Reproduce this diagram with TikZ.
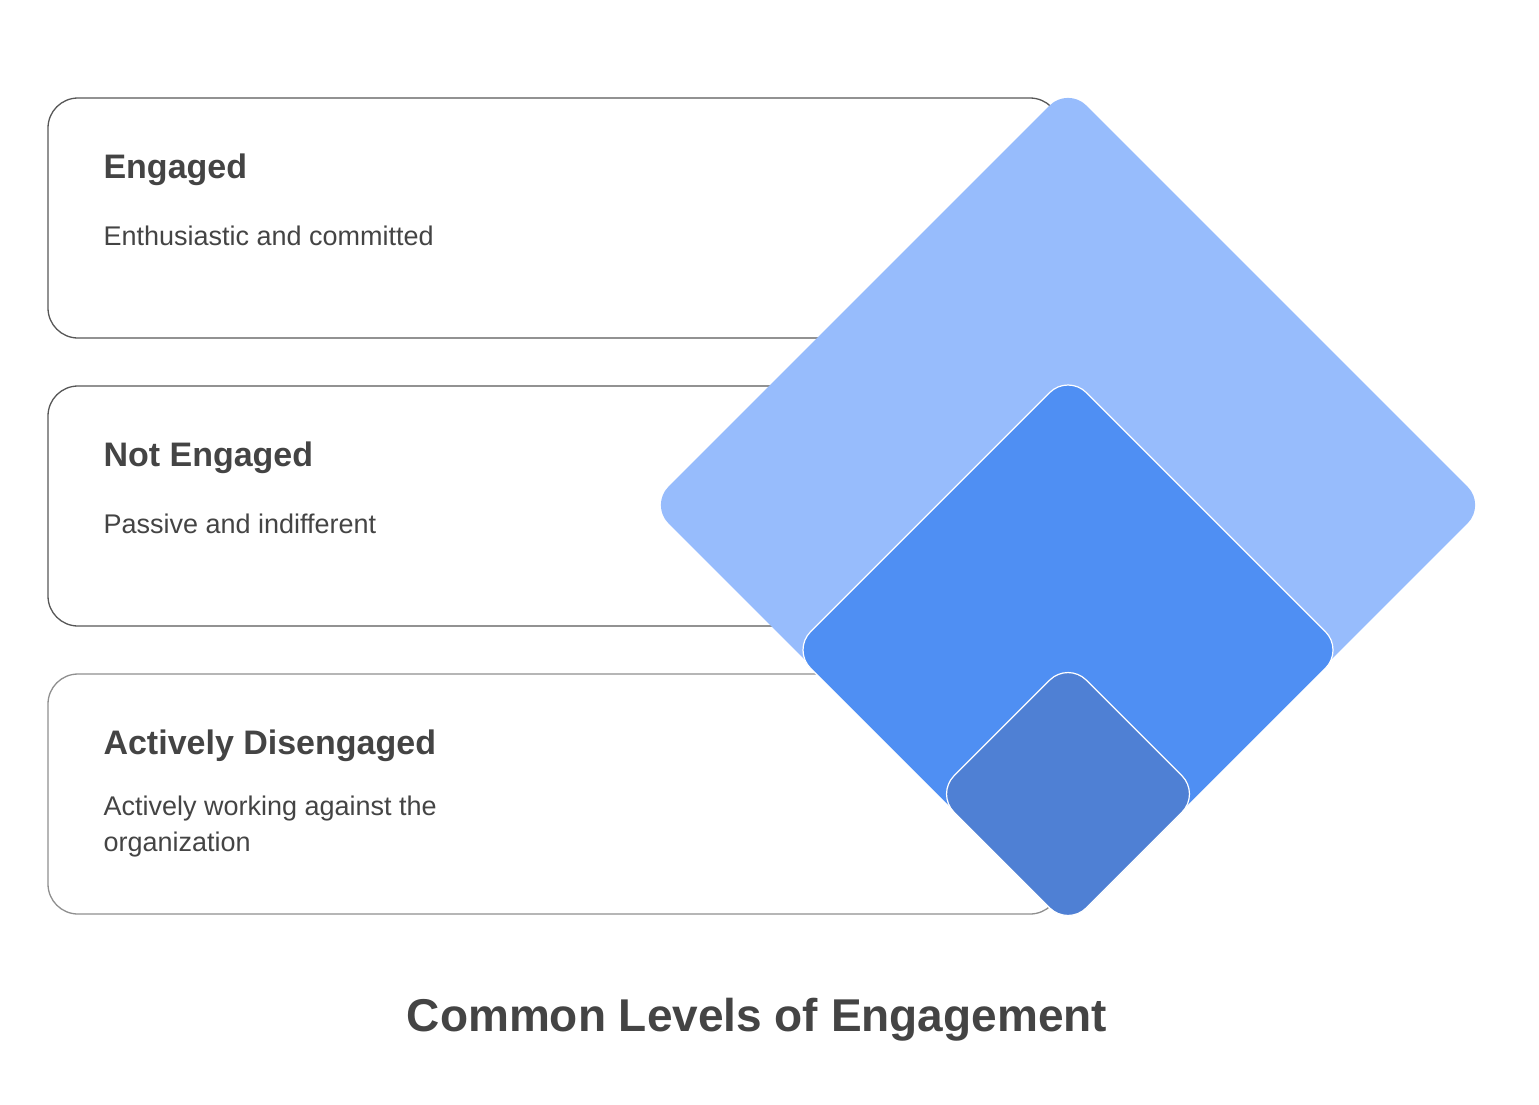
\documentclass[tikz,border=0pt]{standalone}
\usepackage{fontspec}
\setmainfont{Liberation Sans}
\usetikzlibrary{positioning}
\definecolor{txt}{HTML}{444444}
\definecolor{dlight}{HTML}{97BCFC}
\definecolor{dmid}{HTML}{4F8FF3}
\definecolor{ddark}{HTML}{4F80D4}
\tikzstyle{card} = [draw=txt!90, line width=1.3pt, rounded corners=30pt]
\tikzstyle{head} = [anchor=west, text=txt, font=\fontsize{34}{40}\selectfont\bfseries]
\tikzstyle{desc} = [anchor=north west, text=txt, align=left, font=\fontsize{27}{36}\selectfont]
\tikzstyle{level} = [rectangle, rotate=45, rounded corners=26pt, inner sep=0pt]

\begin{document}
\begin{tikzpicture}[x=1pt, y=-1pt]
\useasboundingbox (0,0) rectangle (1539,1104);

% cards
\draw [card] (48,98) rectangle (1060,338);
\draw [card] (48,386) rectangle (1060,626);
\draw [card, draw=txt!60] (48,674) rectangle (1060,914);

\node (engaged) [head] at (100,170) {Engaged};
\node (engaged-desc) [desc] at (100,222) {Enthusiastic and committed};
\node (notengaged) [head] at (100,458) {Not Engaged};
\node (notengaged-desc) [desc] at (100,510) {Passive and indifferent};
\node (disengaged) [head] at (100,746) {Actively Disengaged};
\node (disengaged-desc) [desc] at (100,792) {Actively working against the\\organization};

% diamonds
\node (outer) [level, fill=dlight, minimum size=591pt] at (1068,505) {};
\node (middle) [level, fill=dmid, draw=white, line width=1.2pt, minimum size=390pt] at (1068,650) {};
\node (inner) [level, fill=ddark, draw=white, line width=1.2pt, minimum size=187pt] at (1068,794) {};

\node (title) [text=txt, font=\fontsize{46}{54}\selectfont\bfseries] at (757,1020) {Common Levels of Engagement};

\end{tikzpicture}
\end{document}
